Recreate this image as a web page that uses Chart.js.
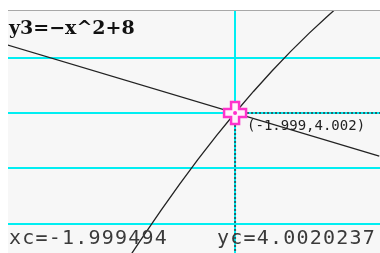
<!DOCTYPE html>
<html lang="en">
<head>
    <meta charset="UTF-8">
    <script src="https://cdn.jsdelivr.net/npm/chart.js"></script>
    <title>Trace</title>
    <style>
        html, body {
            margin: 0;
            padding: 0;
            background: #ffffff;
            overflow: hidden;
        }
        #wrap {
            position: relative;
            width: 380px;
            height: 253px;
        }
        .txt {
            position: absolute;
            white-space: nowrap;
            color: #111;
        }
        #fn {
            left: 9px;
            top: 16px;
            font-family: "DejaVu Serif", serif;
            font-size: 19px;
            font-weight: bold;
        }
        #xc, #yc {
            top: 225px;
            font-family: "DejaVu Sans Mono", monospace;
            font-size: 20px;
            letter-spacing: 1.2px;
            color: #3a3a3a;
        }
        #xc { left: 9px; }
        #yc { left: 217px; }
    </style>
</head>
<body>
<div id="wrap">
    <canvas id="myChart" width="380" height="253"></canvas>
    <div class="txt" id="fn">y3=−x^2+8</div>
    <div class="txt" id="xc">xc=-1.999494</div>
    <div class="txt" id="yc">yc=4.0020237</div>
</div>
<script>
    // straight line through the cursor
    const lineX = [-3.27, -1.22];
    const lineY = [5.27, 3.22];

    // y3 curve, points
    const curveX = [-2.56, -2.5, -2.4, -2.3, -2.2, -2.1, -2.0, -1.9, -1.8, -1.7, -1.6, -1.5, -1.45];
    const curveY = [1.45, 1.75, 2.24, 2.71, 3.16, 3.59, 4.0, 4.39, 4.76, 5.11, 5.44, 5.75, 5.9];

    // trace cursor
    const cursorX = -1.999494;
    const cursorY = 4.0020237;
    const cursorLabel = '(-1.999,4.002)';

    function toPoints(xs, ys) {
        return xs.map((x, i) => ({x: x, y: ys[i]}));
    }

    const onlyWhole = function (scale) {
        scale.ticks = scale.ticks.filter(t => Math.abs(t.value - Math.round(t.value)) < 1e-9);
    };

    const screenPlugin = {
        id: 'screen',
        beforeDraw(chart) {
            const c = chart.ctx, a = chart.chartArea;
            c.save();
            c.fillStyle = '#f7f7f7';
            c.fillRect(a.left, a.top, a.right - a.left, a.bottom - a.top);
            c.strokeStyle = '#a8a8a8';
            c.lineWidth = 1;
            c.beginPath();
            c.moveTo(a.left, a.top - 0.5);
            c.lineTo(chart.width, a.top - 0.5);
            c.stroke();
            c.restore();
        },
        afterDraw(chart) {
            const c = chart.ctx, a = chart.chartArea;
            const px = chart.scales.x.getPixelForValue(cursorX);
            const py = chart.scales.y.getPixelForValue(cursorY);
            c.save();
            // dotted trace lines
            c.strokeStyle = '#2f5f66';
            c.lineWidth = 2;
            c.setLineDash([2, 2]);
            c.beginPath();
            c.moveTo(px, py);
            c.lineTo(a.right, py);
            c.moveTo(px, py);
            c.lineTo(px, a.bottom);
            c.stroke();
            c.setLineDash([]);
            // plus shaped cursor
            const L = 11, W = 4;
            c.beginPath();
            c.moveTo(px - W, py - L);
            c.lineTo(px + W, py - L);
            c.lineTo(px + W, py - W);
            c.lineTo(px + L, py - W);
            c.lineTo(px + L, py + W);
            c.lineTo(px + W, py + W);
            c.lineTo(px + W, py + L);
            c.lineTo(px - W, py + L);
            c.lineTo(px - W, py + W);
            c.lineTo(px - L, py + W);
            c.lineTo(px - L, py - W);
            c.lineTo(px - W, py - W);
            c.closePath();
            c.fillStyle = '#fff4fb';
            c.fill();
            c.strokeStyle = '#ff33cc';
            c.lineWidth = 2.5;
            c.stroke();
            c.fillStyle = '#ff33cc';
            c.beginPath();
            c.arc(px, py, 2, 0, Math.PI * 2);
            c.fill();
            // coordinate label
            c.fillStyle = '#222';
            c.font = '14px "DejaVu Sans Mono", monospace';
            c.textBaseline = 'middle';
            c.fillText(cursorLabel, px + 12, py + 13);
            c.restore();
        }
    };

    new Chart(document.getElementById('myChart'), {
        type: 'scatter',
        data: {
            datasets: [
                {
                    data: toPoints(lineX, lineY),
                    showLine: true,
                    borderColor: '#222222',
                    borderWidth: 1.3,
                    pointRadius: 0
                },
                {
                    data: toPoints(curveX, curveY),
                    showLine: true,
                    borderColor: '#222222',
                    borderWidth: 1.3,
                    pointRadius: 0
                }
            ]
        },
        options: {
            responsive: false,
            animation: false,
            devicePixelRatio: 1,
            layout: {padding: {top: 11, left: 8, right: 0, bottom: 0}},
            plugins: {
                legend: {display: false},
                tooltip: {enabled: false}
            },
            scales: {
                x: {
                    type: 'linear',
                    min: -3.227,
                    max: -1.216,
                    afterBuildTicks: onlyWhole,
                    ticks: {display: false, stepSize: 1},
                    grid: {color: '#00eef2', lineWidth: 2, drawTicks: false},
                    border: {display: false}
                },
                y: {
                    type: 'linear',
                    min: 1.468,
                    max: 5.845,
                    afterBuildTicks: onlyWhole,
                    ticks: {display: false, stepSize: 1},
                    grid: {color: '#00eef2', lineWidth: 2, drawTicks: false},
                    border: {display: false}
                }
            }
        },
        plugins: [screenPlugin]
    });
</script>
</body>
</html>
